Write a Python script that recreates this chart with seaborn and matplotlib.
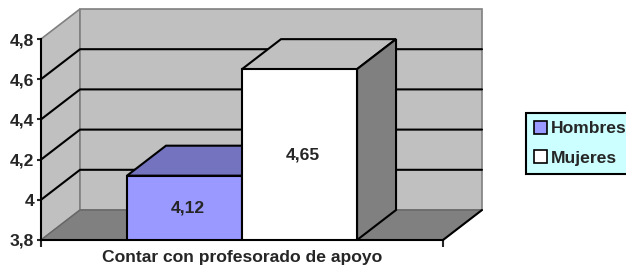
import matplotlib
matplotlib.use("Agg")
import matplotlib.pyplot as plt
import pandas as pd
import seaborn as sns
from matplotlib.patches import Patch, Polygon

# datos
categorias = ["Contar con profesorado de apoyo"]
grupos = ["Hombres", "Mujeres"]
valores = [4.12, 4.65]
yticks = [3.8, 4.0, 4.2, 4.4, 4.6, 4.8]
ytick_labels = ["3,8", "4", "4,2", "4,4", "4,6", "4,8"]

colores_frente = ["#9999FF", "#FFFFFF"]
colores_techo = ["#7373BF", "#C0C0C0"]
colores_lado = ["#5C5C99", "#808080"]

FS = 12.6

sns.set_style("white")
plt.rcParams["font.family"] = ["Liberation Sans", "DejaVu Sans"]
plt.rcParams["font.weight"] = "bold"

df = pd.DataFrame({
    "item": categorias * len(grupos),
    "sexo": grupos,
    "valor": valores,
})

W, H = 626, 269
fig = plt.figure(figsize=(W / 100, H / 100), dpi=100)
ax = fig.add_axes([41 / W, (H - 240) / H, 402 / W, 201 / H])

x0, x1 = -0.699, 0.699
y0, y1 = 3.8, 4.8

# profundidad (efecto 3D)
dx = 39 / 287.5
dy = 30 / 201

# barras
sns.barplot(data=df, x="item", y="valor", hue="sexo", palette=colores_frente,
            edgecolor="black", linewidth=1.5, width=0.8, saturation=1,
            legend=False, ax=ax, zorder=2)
ax.set_xlim(x0, x1)
ax.set_ylim(y0, y1)

# paredes y suelo
pared_izq = Polygon([(x0, y0), (x0, y1), (x0 + dx, y1 + dy), (x0 + dx, y0 + dy)],
                    closed=True, facecolor="#C0C0C0", edgecolor="#808080", lw=1.2,
                    clip_on=False, zorder=0.2)
pared_fondo = Polygon([(x0 + dx, y0 + dy), (x0 + dx, y1 + dy), (x1 + dx, y1 + dy), (x1 + dx, y0 + dy)],
                      closed=True, facecolor="#C0C0C0", edgecolor="#808080", lw=1.2,
                      clip_on=False, zorder=0.2)
suelo = Polygon([(x0, y0), (x1, y0), (x1 + dx, y0 + dy), (x0 + dx, y0 + dy)],
                closed=True, facecolor="#808080", edgecolor="#666666", lw=1.0,
                clip_on=False, zorder=0.3)
for p in (pared_izq, pared_fondo, suelo):
    ax.add_patch(p)
ax.plot([x1, x1 + dx], [y0, y0 + dy], color="black", lw=1.5, clip_on=False, zorder=0.4)

for v in yticks[1:-1]:
    ax.plot([x0, x0 + dx, x1 + dx], [v, v + dy, v + dy], color="black", lw=1.5,
            clip_on=False, zorder=0.35)

barras = [b for cont in ax.containers for b in cont]
for i, b in enumerate(barras):
    bx, bw, bh = b.get_x(), b.get_width(), b.get_height()
    techo = Polygon([(bx, bh), (bx + bw, bh), (bx + bw + dx, bh + dy), (bx + dx, bh + dy)],
                    closed=True, facecolor=colores_techo[i], edgecolor="black", lw=1.5,
                    clip_on=False, zorder=1)
    lado = Polygon([(bx + bw, y0), (bx + bw, bh), (bx + bw + dx, bh + dy), (bx + bw + dx, y0 + dy)],
                   closed=True, facecolor=colores_lado[i], edgecolor="black", lw=1.5,
                   clip_on=False, zorder=1)
    ax.add_patch(techo)
    ax.add_patch(lado)
    ax.text(bx + bw / 2 + 0.01, (y0 + bh) / 2, f"{valores[i]:.2f}".replace(".", ","),
            ha="center", va="center", fontsize=FS, fontweight="bold", zorder=3)

# ejes
for s in ["top", "right"]:
    ax.spines[s].set_visible(False)
for s in ["left", "bottom"]:
    ax.spines[s].set_color("black")
    ax.spines[s].set_linewidth(1.5)
    ax.spines[s].set_zorder(4)

ax.set_yticks(yticks)
ax.set_yticklabels(ytick_labels, fontsize=FS, fontweight="bold")
ax.tick_params(axis="y", direction="out", length=3, width=1.5, pad=2, left=True)
ax.set_xticks([0])
ax.set_xticklabels(categorias, fontsize=FS, fontweight="bold")
ax.set_xticks([x0, x1], minor=True)
ax.tick_params(axis="x", which="major", length=0, pad=7)
ax.tick_params(axis="x", which="minor", direction="out", length=5, width=1.5, bottom=True)
ax.set_xlabel("")
ax.set_ylabel("")
ax.grid(False)

# leyenda
handles = [Patch(facecolor=c, edgecolor="black", lw=1.2) for c in colores_frente]
leg = fig.legend(handles, grupos, loc="upper left", bbox_to_anchor=(526 / W, 1 - 113 / H),
                 frameon=True, fancybox=False, facecolor="#CCFFFF", edgecolor="black",
                 framealpha=1, borderaxespad=0, borderpad=0.45, labelspacing=0.8,
                 handlelength=0.75, handleheight=0.75, handletextpad=0.25,
                 prop={"size": FS, "weight": "bold"})
leg.get_frame().set_linewidth(1.5)

fig.savefig("out.png", dpi=100)
